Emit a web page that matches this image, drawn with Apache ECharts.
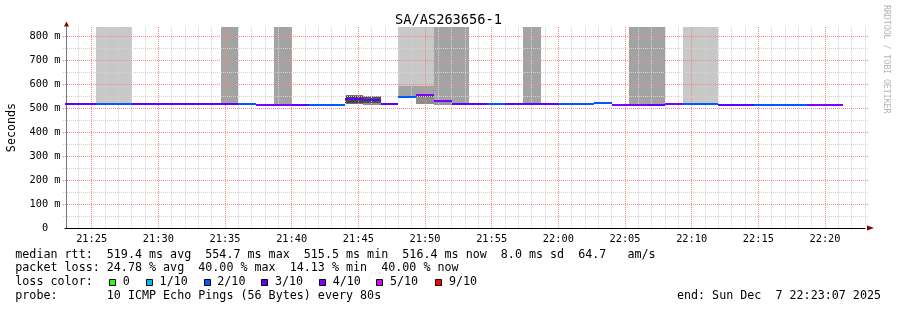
<!DOCTYPE html>
<html><head><meta charset="utf-8">
<script src="https://cdn.jsdelivr.net/npm/echarts@6/dist/echarts.min.js"></script>
<style>html,body{margin:0;padding:0;background:#fff}#c{width:897px;height:310px}</style>
</head><body><div id="c"></div>
<script>
// ---------- data ----------
const TITLE = 'SA/AS263656-1';
const AXIS_MIN = 76980;   // 21:23:00 (seconds of day)
const AXIS_MAX = 80580;   // 22:23:00
const Y_MAX = 0.84;       // seconds
const STEP = 80;          // probe step, seconds
const FIRST_STEP = 76960; // start time of first step below (21:22:40)

// median rtt per 80 s step (ms)
const medianMs = [519,519, 519,519, 519,519,519,519,519,519, 519, 515,515, 515, 515,515,
                  539,535, 519, 549,556, 530, 518,518, 518, 518,518,518, 518,518, 521,
                  515,515, 515, 519, 519,519, 516,516, 516,516,516, 516,516];
// loss per step (x/10)
const lossLevel = [3,3, 2,2, 3,3,3,3,3,3, 2, 4,4, 3, 2,2,
                   3,3, 3, 2,4, 4, 3,3, 2, 3,3,3, 2,2, 2,
                   4,4, 3, 4, 2,2, 3,3, 2,2,2, 4,4];

// smoke / loss shading: step index, low (ms), high (ms), grey level
const smokeStep = [2,3, 9, 12, 19,19, 20,20, 21, 22, 26, 32,33, 35,36, 16,16, 17,17, 20,20, 21];
const smokeLoMs = [519,519, 519, 515, 549,549, 556,556, 530, 518, 518, 515,515, 519,519, 517,521, 516,522, 517,547, 516];
const smokeHiMs = [840,840, 840, 840, 840,592, 840,592, 840, 840, 840, 840,840, 840,840, 555,553, 551,549, 555,556, 528];
const smokeGray = [200,200, 163, 163, 200,163, 200,163, 163, 163, 163, 163,163, 200,200, 112,70, 140,80, 140,90, 150];

// grid: minute lines (every 5th is major), 50 ms lines (every 2nd is major)
const gridMinutes = [];
for (let t = AXIS_MIN + 60; t <= AXIS_MAX; t += 60) gridMinutes.push(t);
const gridLevelsMs = [50,100,150,200,250,300,350,400,450,500,550,600,650,700,750,800];

const lossColors = ['#26ff00','#00b8ff','#0059ff','#5e00ff','#7e00ff','#dd00ff','#ff0000'];
const legendLabels = ['0','1/10','2/10','3/10','4/10','5/10','9/10'];
const legendColors = ['#26ff00','#00b8ff','#0059ff','#5e00ff','#7e00ff','#dd00ff','#ff0000'];

const line1 = 'median rtt:  519.4 ms avg  554.7 ms max  515.5 ms min  516.4 ms now  8.0 ms sd  64.7   am/s';
const line2 = 'packet loss: 24.78 % avg  40.00 % max  14.13 % min  40.00 % now';
const line3 = 'loss color:';
const line4 = 'probe:       10 ICMP Echo Pings (56 Bytes) every 80s';
const endText = 'end: Sun Dec  7 22:23:07 2025';
const watermark = 'RRDTOOL / TOBI OETIKER';

// ---------- layout ----------
const MONO = '"DejaVu Sans Mono", monospace';
const RED = '#f78888', GRY = '#d2d2d2';
const legendBoxX = [109,146,204,261,319,376,435];
const legendTextX = [122.8,159.6,217.3,275,332.7,390,449];
const textY = [254.5, 268, 282, 296.3];

const medianData = medianMs.map((v, i) => [FIRST_STEP + i*STEP, FIRST_STEP + (i+1)*STEP, v/1000, lossLevel[i]]);
const smokeData = smokeStep.map((s, j) => [FIRST_STEP + s*STEP, FIRST_STEP + (s+1)*STEP, smokeLoMs[j]/1000, smokeHiMs[j]/1000, smokeGray[j]]);
const gridVData = gridMinutes.map(t => [t, 0, Math.round(t/60) % 5 === 0 ? 1 : 0]);
const gridHData = gridLevelsMs.map(v => [AXIS_MIN, v/1000, v % 100 === 0 ? 1 : 0]);

function pad(n){return String(n).padStart(2,'0');}
function fmtTime(sec){const m=Math.round(sec/60);return pad(Math.floor(m/60))+':'+pad(m%60);}
function clipX(x, cs){return Math.max(cs.x, Math.min(cs.x+cs.width, x));}

const chart = echarts.init(document.getElementById('c'), null, {renderer:'canvas'});

const graphics = [
  {type:'text', x:15.3, y:textY[0], style:{text:line1, font:'11.7px '+MONO, fill:'#000', verticalAlign:'middle'}},
  {type:'text', x:15.3, y:textY[1], style:{text:line2, font:'11.7px '+MONO, fill:'#000', verticalAlign:'middle'}},
  {type:'text', x:15.3, y:textY[2], style:{text:line3, font:'11.7px '+MONO, fill:'#000', verticalAlign:'middle'}},
  {type:'text', x:15.3, y:textY[3], style:{text:line4, font:'11.7px '+MONO, fill:'#000', verticalAlign:'middle'}},
  {type:'text', x:881, y:textY[3], style:{text:endText, font:'11.7px '+MONO, fill:'#000', align:'right', verticalAlign:'middle'}},
  {type:'text', x:886, y:5, rotation:-Math.PI/2, style:{text:watermark, font:'8.2px '+MONO, fill:'#b4b4b4', align:'left', verticalAlign:'middle'}}
];
legendLabels.forEach((lab, i) => {
  graphics.push({type:'rect', shape:{x:legendBoxX[i]+0.5, y:279.5, width:6, height:6}, style:{fill:legendColors[i], stroke:'#000', lineWidth:1}});
  graphics.push({type:'text', x:legendTextX[i], y:textY[2], style:{text:lab, font:'11.7px '+MONO, fill:'#000', verticalAlign:'middle'}});
});

const option = {
  animation:false,
  backgroundColor:'#ffffff',
  title:{text:TITLE, left:'center', top:8, textStyle:{fontFamily:MONO, fontSize:13.7, fontWeight:'normal', color:'#000'}},
  grid:{left:65, top:27, width:800, height:201, containLabel:false, outerBoundsMode:'none'},
  xAxis:[{
    type:'value', min:AXIS_MIN, max:AXIS_MAX, interval:60, z:4,
    axisLine:{show:true, lineStyle:{color:'#000', width:1}},
    axisTick:{show:false},
    axisLabel:{margin:6, fontFamily:MONO, fontSize:10.3, color:'#000',
      formatter:v => (Math.round(v/60) % 5 === 0 ? fmtTime(v) : '')},
    splitLine:{show:false}
  },{
    type:'value', min:AXIS_MIN, max:AXIS_MAX, position:'bottom', z:4,
    axisLine:{show:true, symbol:['none','triangle'], symbolSize:[5,7], symbolOffset:[0,5.5],
      lineStyle:{color:'#800000', width:0}},
    axisTick:{show:false}, axisLabel:{show:false}, splitLine:{show:false}
  }],
  yAxis:[{
    type:'value', min:0, max:Y_MAX, interval:0.05, offset:-1.5, z:4,
    name:'Seconds', nameLocation:'middle', nameGap:49,
    nameTextStyle:{fontFamily:MONO, fontSize:11.7, color:'#000'},
    axisLine:{show:true, lineStyle:{color:'#777', width:1}},
    axisTick:{show:false},
    axisLabel:{margin:6, fontFamily:MONO, fontSize:10.3, color:'#000',
      formatter:v => {const m=Math.round(v*1000); if (m % 100) return ''; return m===0 ? '0  ' : m+' m';}},
    splitLine:{show:false}
  },{
    type:'value', min:0, max:Y_MAX, position:'left', offset:-1.5, z:4,
    axisLine:{show:true, symbol:['none','triangle'], symbolSize:[5,5], symbolOffset:[0,3],
      lineStyle:{color:'#800000', width:0}},
    axisTick:{show:false}, axisLabel:{show:false}, splitLine:{show:false}
  }],
  series:[{
    type:'custom', name:'smoke', z:2, silent:true,
    xAxisIndex:0, yAxisIndex:0,
    encode:{x:[0,1], y:[2,3]},
    data:smokeData,
    renderItem:(params, api) => {
      const cs = params.coordSys;
      const a = api.coord([api.value(0), api.value(3)]);
      const b = api.coord([api.value(1), api.value(2)]);
      const g = api.value(4);
      const x0 = Math.round(clipX(a[0], cs)), x1 = Math.round(clipX(b[0], cs));
      const y0 = Math.round(Math.max(cs.y, a[1])), y1 = Math.round(b[1]);
      return {type:'rect', shape:{x:x0, y:y0, width:x1-x0, height:y1-y0}, style:{fill:'rgb('+g+','+g+','+g+')'}};
    }
  },{
    type:'custom', name:'grid-v', z:3, silent:true,
    xAxisIndex:0, yAxisIndex:0,
    encode:{x:0, y:1},
    data:gridVData,
    renderItem:(params, api) => {
      const cs = params.coordSys;
      const p = api.coord([api.value(0), 0]);
      const x = Math.floor(p[0]) + 0.5;
      return {type:'line', shape:{x1:x, y1:cs.y, x2:x, y2:cs.y+cs.height},
        style:{stroke: api.value(2) ? RED : GRY, lineWidth:1, lineDash:[1,1]}};
    }
  },{
    type:'custom', name:'grid-h', z:3, silent:true,
    xAxisIndex:0, yAxisIndex:0,
    encode:{x:0, y:1},
    data:gridHData,
    renderItem:(params, api) => {
      const cs = params.coordSys;
      const p = api.coord([api.value(0), api.value(1)]);
      const y = Math.floor(p[1]) + 0.5;
      return {type:'line', shape:{x1:cs.x-2, y1:y, x2:cs.x+cs.width+3, y2:y},
        style:{stroke: api.value(2) ? RED : GRY, lineWidth:1, lineDash:[1,1]}};
    }
  },{
    type:'custom', name:'median rtt', z:5, silent:true,
    xAxisIndex:0, yAxisIndex:0,
    encode:{x:[0,1], y:2},
    data:medianData,
    renderItem:(params, api) => {
      const cs = params.coordSys;
      const a = api.coord([api.value(0), api.value(2)]);
      const b = api.coord([api.value(1), api.value(2)]);
      const x0 = Math.round(clipX(a[0], cs)), x1 = Math.round(clipX(b[0], cs));
      const y = Math.round(a[1]);
      return {type:'rect', shape:{x:x0, y:y-1, width:x1-x0, height:2}, style:{fill:lossColors[api.value(3)]}};
    }
  }],
  graphic:{elements:graphics}
};
chart.setOption(option);
</script></body></html>
